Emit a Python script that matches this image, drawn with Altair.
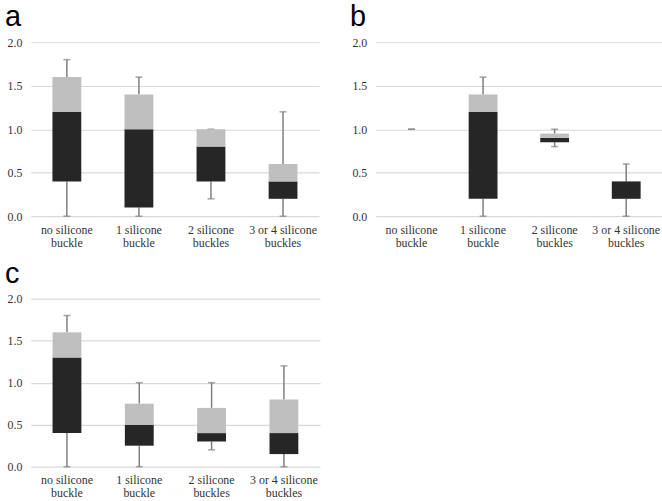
import altair as alt
import pandas as pd

categories = ["no silicone buckle", "1 silicone buckle", "2 silicone buckles", "3 or 4 silicone buckles"]

# panel a
a_min = [0.0, 0.0, 0.2, 0.0]
a_q1 = [0.4, 0.1, 0.4, 0.2]
a_med = [1.2, 1.0, 0.8, 0.4]
a_q3 = [1.6, 1.4, 1.0, 0.6]
a_max = [1.8, 1.6, 1.0, 1.2]

# panel b
b_min = [1.0, 0.0, 0.8, 0.0]
b_q1 = [1.0, 0.2, 0.85, 0.2]
b_med = [1.0, 1.2, 0.9, 0.4]
b_q3 = [1.0, 1.4, 0.95, 0.4]
b_max = [1.0, 1.6, 1.0, 0.6]

# panel c
c_min = [0.0, 0.0, 0.2, 0.0]
c_q1 = [0.4, 0.25, 0.3, 0.15]
c_med = [1.3, 0.5, 0.4, 0.4]
c_q3 = [1.6, 0.75, 0.7, 0.8]
c_max = [1.8, 1.0, 1.0, 1.2]

DARK = "#262626"
LIGHT = "#bfbfbf"
WHISK = "#7f7f7f"
GRID = "#d9d9d9"
TXT = "#333333"
SERIF = "Liberation Serif, Times New Roman, DejaVu Serif, serif"

label_expr = ("[substring(datum.label, 0, lastindexof(datum.label, ' ')), "
              "substring(datum.label, lastindexof(datum.label, ' ') + 1)]")


def panel(letter, mn, q1, med, q3, mx, w, h):
    df = pd.DataFrame({"cat": categories, "mn": mn, "q1": q1, "med": med, "q3": q3, "mx": mx})
    x = alt.X("cat:N", sort=categories, title=None,
              scale=alt.Scale(paddingInner=0, paddingOuter=0),
              axis=alt.Axis(labelAngle=0, labelExpr=label_expr, domain=False, ticks=False,
                            labelPadding=8, labelFont=SERIF, labelFontSize=12,
                            labelColor=TXT, labelLineHeight=13, labelBaseline="top"))
    yscale = alt.Scale(domain=[0, 2])
    yaxis = alt.Axis(values=[0, 0.5, 1.0, 1.5, 2.0], format=".1f", domain=False, ticks=False,
                     gridColor=GRID, gridWidth=1.2, labelPadding=9, labelFont=SERIF,
                     labelFontSize=12, labelColor=TXT)
    base = alt.Chart(df)
    lower = base.mark_rule(color=WHISK, strokeWidth=1.5).encode(
        x=x, y=alt.Y("mn:Q", scale=yscale, axis=yaxis, title=None), y2="q1:Q")
    upper = base.mark_rule(color=WHISK, strokeWidth=1.5).encode(
        x=x, y=alt.Y("q3:Q", scale=yscale), y2="mx:Q")
    cap_lo = base.mark_tick(color=WHISK, size=7, thickness=1.5).encode(
        x=x, y=alt.Y("mn:Q", scale=yscale))
    cap_hi = base.mark_tick(color=WHISK, size=7, thickness=1.5).encode(
        x=x, y=alt.Y("mx:Q", scale=yscale))
    dark = base.mark_bar(color=DARK, size=29).encode(
        x=x, y=alt.Y("q1:Q", scale=yscale), y2="med:Q")
    light = base.mark_bar(color=LIGHT, size=29).encode(
        x=x, y=alt.Y("med:Q", scale=yscale), y2="q3:Q")
    return alt.layer(lower, upper, cap_lo, cap_hi, dark, light).properties(
        width=w, height=h,
        title=alt.TitleParams(letter, anchor="start", frame="bounds", font="Liberation Sans",
                              fontSize=29, fontWeight="normal", color="#000000",
                              offset=4, dx=-2))


pa = panel("a", a_min, a_q1, a_med, a_q3, a_max, 290, 175)
pb = panel("b", b_min, b_q1, b_med, b_q3, b_max, 288, 175)
pc = panel("c", c_min, c_q1, c_med, c_q3, c_max, 291, 169)

chart = alt.vconcat(
    alt.hconcat(pa, pb, spacing=31),
    pc,
    spacing=12,
).properties(padding={"left": 5, "top": 2, "right": 0, "bottom": 0},
             background="white").configure_view(stroke=None)

chart.save("out.html", embed_options={"renderer": "svg", "actions": False})
